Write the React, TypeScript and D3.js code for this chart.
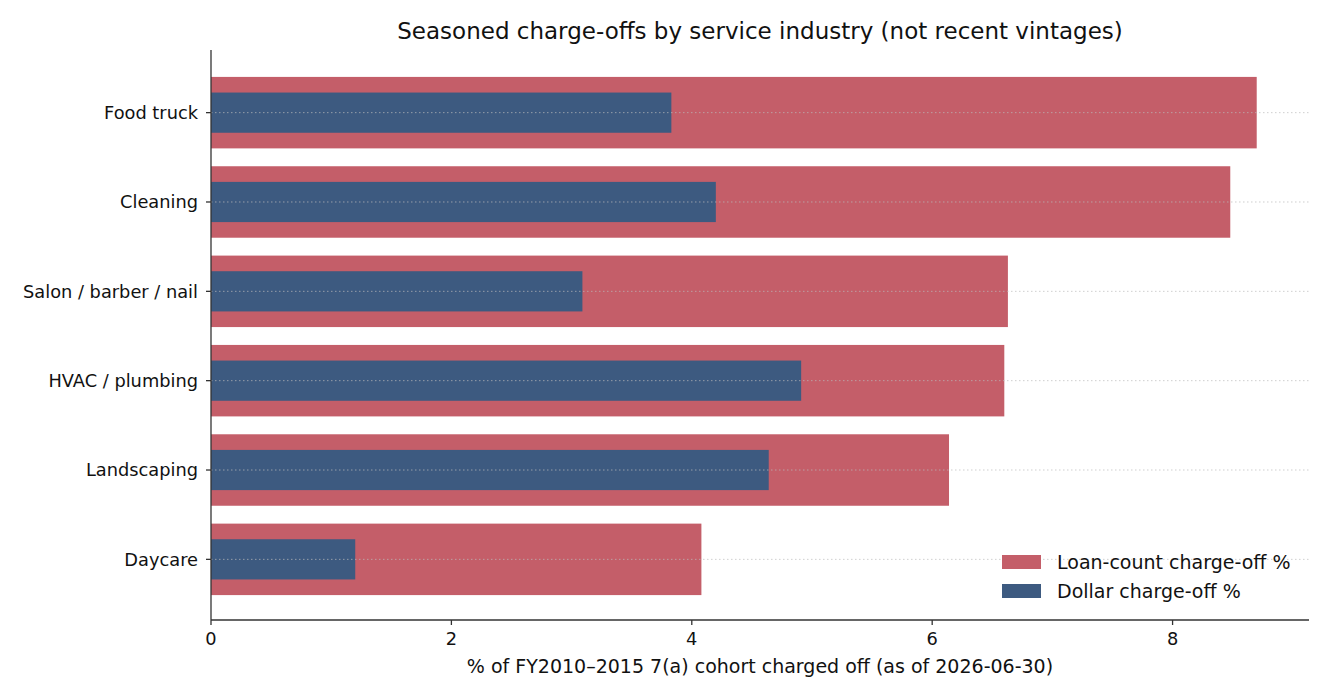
import React from "react";
import * as d3 from "d3";

const categories = ["Food truck", "Cleaning", "Salon / barber / nail", "HVAC / plumbing", "Landscaping", "Daycare"];
const loanCountPct = [8.70, 8.48, 6.63, 6.60, 6.14, 4.08];
const dollarPct = [3.83, 4.20, 3.09, 4.91, 4.64, 1.20];
const xTicks = [0, 2, 4, 6, 8];

const W = 1330, H = 700;
const left = 211, right = 1309, top = 50, bottom = 620;
const RED = "#c45e69";
const BLUE = "#3d5a80";
const FONT = "DejaVu Sans, sans-serif";

export default function App() {
  const xMax = d3.max(loanCountPct)! * 1.05;
  const x = d3.scaleLinear().domain([0, xMax]).range([left, right]);
  const y = d3.scaleLinear().domain([-0.69, 5.69]).range([top + 1, bottom + 1]);
  const step = y(1) - y(0);
  const redH = 0.8 * step;
  const blueH = 0.45 * step;
  return (
    <div style={{ position: "absolute", left: 0, top: 0 }}>
      <svg width={W} height={H} style={{ display: "block", background: "#fff" }} fontFamily={FONT}>
        <text x={(left + right) / 2} y={39} textAnchor="middle" fontSize={23} fill="#111">
          Seasoned charge-offs by service industry (not recent vintages)
        </text>
        {categories.map((c, i) => (
          <g key={c}>
            <rect x={x(0)} y={y(i) - redH / 2} width={x(loanCountPct[i]) - x(0)} height={redH} fill={RED} />
            <rect x={x(0)} y={y(i) - blueH / 2} width={x(dollarPct[i]) - x(0)} height={blueH} fill={BLUE} />
          </g>
        ))}
        {categories.map((c, i) => (
          <line key={"g" + c} x1={left} x2={right} y1={y(i)} y2={y(i)} stroke="#bbb" strokeOpacity={0.7} strokeWidth={1} strokeDasharray="1.5,2.5" />
        ))}
        {/* y axis */}
        <line x1={left} x2={left} y1={top} y2={bottom} stroke="#333" strokeWidth={1.3} />
        {categories.map((c, i) => (
          <g key={"t" + c}>
            <line x1={left - 5} x2={left} y1={y(i)} y2={y(i)} stroke="#333" strokeWidth={1.3} />
            <text x={left - 13} y={y(i)} dy="0.35em" textAnchor="end" fontSize={17.8} fill="#111">{c}</text>
          </g>
        ))}
        {/* x axis */}
        <line x1={left} x2={right} y1={bottom} y2={bottom} stroke="#333" strokeWidth={1.3} />
        {xTicks.map((t) => (
          <g key={"x" + t}>
            <line x1={x(t)} x2={x(t)} y1={bottom} y2={bottom + 5} stroke="#333" strokeWidth={1.3} />
            <text x={x(t)} y={bottom + 25} textAnchor="middle" fontSize={17.8} fill="#111">{t}</text>
          </g>
        ))}
        <text x={(left + right) / 2} y={673} textAnchor="middle" fontSize={19} fill="#111">
          % of FY2010–2015 7(a) cohort charged off (as of 2026-06-30)
        </text>
        {/* legend */}
        <rect x={1002} y={555} width={39} height={14} fill={RED} />
        <text x={1057} y={562} dy="0.35em" fontSize={19} fill="#111">Loan-count charge-off %</text>
        <rect x={1002} y={584} width={39} height={14} fill={BLUE} />
        <text x={1057} y={591} dy="0.35em" fontSize={19} fill="#111">Dollar charge-off %</text>
      </svg>
    </div>
  );
}
